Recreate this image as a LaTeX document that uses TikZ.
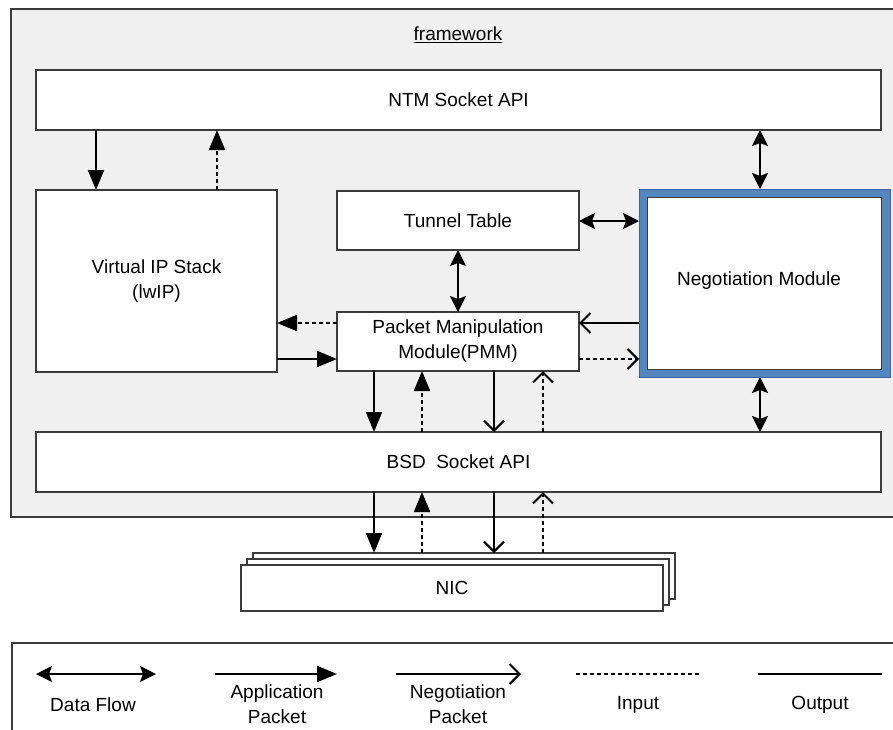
\documentclass[tikz,border=0pt]{standalone}
\usepackage{fontspec}
\setmainfont{Liberation Sans}
\usetikzlibrary{arrows.meta}
\definecolor{boxline}{RGB}{60,60,60}
\definecolor{framefill}{RGB}{240,240,240}
\definecolor{nmblue}{RGB}{84,134,192}
\definecolor{nmblueedge}{RGB}{60,100,160}
\begin{document}
\begin{tikzpicture}[x=1pt,y=-1pt,
  box/.style={draw=boxline, line width=1.3pt, fill=white, inner sep=0pt, outer sep=0pt},
  lbl/.style={font=\fontsize{19}{25}\selectfont, align=center, inner sep=0pt},
  app/.style={line width=2pt, ->, >={Triangle[length=20pt,width=16pt]}},
  neg/.style={line width=2pt, ->, >={Straight Barb[length=10pt,width=20pt]}},
  dflow/.style={line width=2pt, <->, >={Stealth[length=16pt,width=16pt,inset=3pt]}},
  inp/.style={dash pattern=on 4pt off 3pt},
]
\clip (0,0) rectangle (893,729);
\fill[white] (0,0) rectangle (893,729);
% framework
\draw[draw=boxline, line width=1.3pt, fill=framefill] (11,9) rectangle (910,517);
\node[lbl] (fw) at (458,35) {\underline{framework}};
% boxes
\node[box, minimum width=845pt, minimum height=60pt] (ntm) at (458.5,100) {};
\node[lbl] at (ntm.center) {NTM Socket API};
\node[box, minimum width=241pt, minimum height=182pt] (vip) at (156.5,281) {};
\node[lbl] at (vip.center) {Virtual IP Stack\\(lwIP)};
\node[box, minimum width=242pt, minimum height=59pt] (tt) at (458,220.5) {};
\node[lbl] at (tt.center) {Tunnel Table};
\node[box, minimum width=242pt, minimum height=59pt] (pmm) at (458,341.5) {};
\node[lbl] at (pmm.center) {Packet Manipulation\\Module(PMM)};
\node[draw=nmblueedge, line width=1pt, fill=nmblue, inner sep=0pt, outer sep=0pt,
      minimum width=251pt, minimum height=188pt] (nm) at (764.5,283) {};
\node[draw=boxline, line width=1pt, fill=white, inner sep=0pt, outer sep=0pt,
      minimum width=234pt, minimum height=172pt] (nmin) at (764,283) {};
\node[lbl] at (759,281) {Negotiation Module};
\node[box, minimum width=845pt, minimum height=60pt] (bsd) at (458.5,462) {};
\node[lbl] at (bsd.center) {BSD\ \ Socket API};
% NIC stack
\node[box, minimum width=422pt, minimum height=46pt] (nic3) at (464,576) {};
\node[box, minimum width=422pt, minimum height=46pt] (nic2) at (458,582) {};
\node[box, minimum width=422pt, minimum height=46pt] (nic) at (452,588) {};
\node[lbl] at (nic.center) {NIC};
% helper coordinates
\coordinate (a1) at (96,0);
\coordinate (a2) at (217,0);
\coordinate (a3) at (760,0);
\coordinate (p1) at (374,0);
\coordinate (p2) at (422,0);
\coordinate (p3) at (494,0);
\coordinate (p4) at (543,0);
\coordinate (r1) at (0,221);
\coordinate (r2) at (0,323);
\coordinate (r3) at (0,359);
% connectors
\draw[app] (ntm.south -| a1) -- (vip.north -| a1);
\draw[app,inp] (vip.north -| a2) -- (ntm.south -| a2);
\draw[dflow] (ntm.south -| a3) -- (nm.north -| a3);
\draw[dflow] (tt.east |- r1) -- (nm.west |- r1);
\draw[dflow] (tt.south) -- (pmm.north);
\draw[app,inp] (pmm.west |- r2) -- (vip.east |- r2);
\draw[app] (vip.east |- r3) -- (pmm.west |- r3);
\draw[neg] (nm.west |- r2) -- (pmm.east |- r2);
\draw[neg,inp] (pmm.east |- r3) -- (nm.west |- r3);
\draw[dflow] (nm.south -| a3) -- (bsd.north -| a3);
\draw[app] (pmm.south -| p1) -- (bsd.north -| p1);
\draw[app,inp] (bsd.north -| p2) -- (pmm.south -| p2);
\draw[neg] (pmm.south -| p3) -- (bsd.north -| p3);
\draw[neg,inp] (bsd.north -| p4) -- (pmm.south -| p4);
\draw[app] (bsd.south -| p1) -- (nic3.north -| p1);
\draw[app,inp] (nic3.north -| p2) -- (bsd.south -| p2);
\draw[neg] (bsd.south -| p3) -- (nic3.north -| p3);
\draw[neg,inp] (nic3.north -| p4) -- (bsd.south -| p4);
% legend
\draw[draw=boxline, line width=1.3pt, fill=white] (12,643) rectangle (910,760);
\coordinate (l1a) at (36,674);  \coordinate (l1b) at (156,674);
\coordinate (l2a) at (215,674); \coordinate (l2b) at (337,674);
\coordinate (l3a) at (396,674); \coordinate (l3b) at (521,674);
\coordinate (l4a) at (576,674); \coordinate (l4b) at (700,674);
\coordinate (l5a) at (758,674); \coordinate (l5b) at (882,674);
\draw[dflow] (l1a) -- (l1b);
\draw[app] (l2a) -- (l2b);
\draw[neg] (l3a) -- (l3b);
\draw[line width=2pt, inp] (l4a) -- (l4b);
\draw[line width=2pt] (l5a) -- (l5b);
\node[lbl] (t1) at (93,705) {Data Flow};
\node[lbl] (t2) at (277,704.5) {Application\\Packet};
\node[lbl] (t3) at (458,704.5) {Negotiation\\Packet};
\node[lbl] (t4) at (638,705) {Input};
\node[lbl] (t5) at (820,705) {Output};
\end{tikzpicture}
\end{document}
